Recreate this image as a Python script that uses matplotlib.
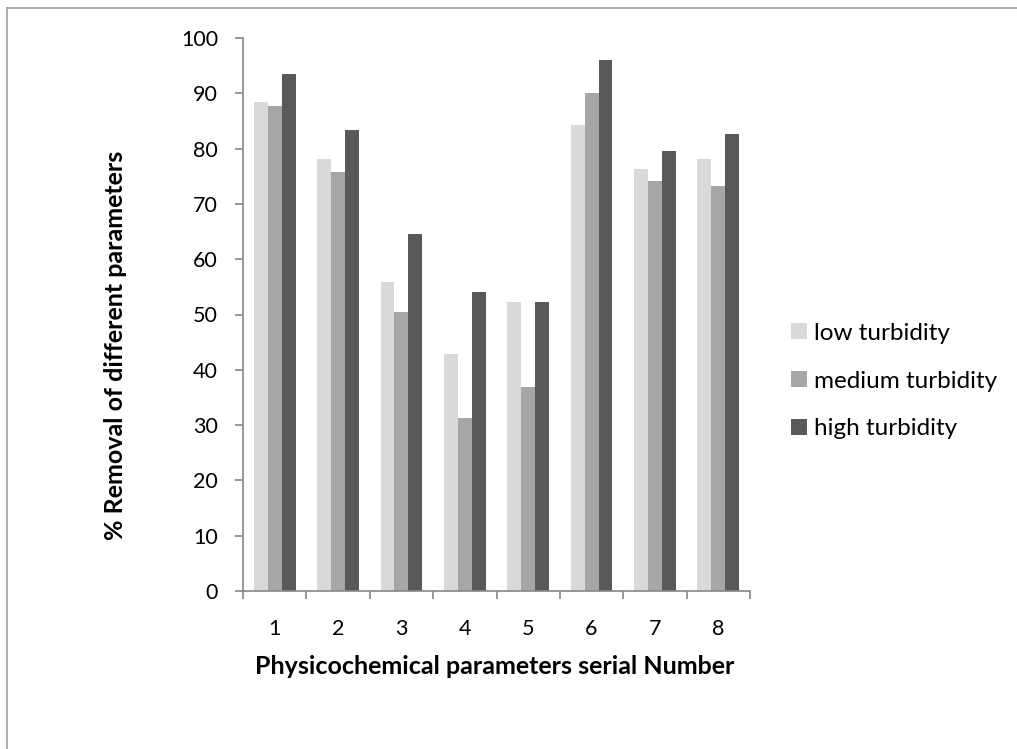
import numpy as np
import matplotlib
matplotlib.use('Agg')
import matplotlib.pyplot as plt
from matplotlib.lines import Line2D

plt.rcParams['font.family'] = ['Lato', 'DejaVu Sans']

groups = ['1', '2', '3', '4', '5', '6', '7', '8']
low = [88.4, 78.2, 55.8, 42.9, 52.3, 84.3, 76.3, 78.1]
medium = [87.7, 75.7, 50.5, 31.3, 36.8, 90.0, 74.1, 73.2]
high = [93.5, 83.4, 64.6, 54.1, 52.3, 96.0, 79.6, 82.7]
series_names = ['low turbidity', 'medium turbidity', 'high turbidity']
colors = ['#D9D9D9', '#A6A6A6', '#595959']

W, H = 1017, 749
fig = plt.figure(figsize=(W/100, H/100), dpi=100)
ax = fig.add_axes([243/W, (H-591)/H, 507/W, 553/H])

x = np.arange(len(groups))
w = 0.22
for i, (vals, name, c) in enumerate(zip([low, medium, high], series_names, colors)):
    ax.bar(x + (i - 1)*w, vals, width=w, color=c, edgecolor='none', label=name)

axis_col = '#868686'
ax.set_xlim(-0.5, len(groups) - 0.5)
ax.set_ylim(0, 100)
ax.set_yticks(np.arange(0, 101, 10))
ax.set_xticks(x)
ax.set_xticklabels(groups)
ax.set_xticks(np.arange(-0.5, len(groups), 1), minor=True)
ax.tick_params(axis='x', which='major', length=0, labelsize=15.5, pad=20)
ax.tick_params(axis='x', which='minor', length=6, width=1.2, color=axis_col, direction='out')
ax.tick_params(axis='y', length=6, width=1.2, color=axis_col, labelsize=15.5, pad=12)
for s in ['top', 'right']:
    ax.spines[s].set_visible(False)
for s in ['left', 'bottom']:
    ax.spines[s].set_color(axis_col)
    ax.spines[s].set_linewidth(1.2)

fig.text(495/W, 1 - 666/H, 'Physicochemical parameters serial Number',
         fontsize=18, fontweight='bold', ha='center', va='center')
fig.text(116/W, 1 - 345/H, '% Removal of different parameters',
         fontsize=18, fontweight='bold', ha='center', va='center', rotation=90)

fig.legend(loc='center left', bbox_to_anchor=(791/W, 1 - 381/H), bbox_transform=fig.transFigure,
           frameon=False, fontsize=17.5, borderpad=0, borderaxespad=0,
           handlelength=0.66, handleheight=0.66, labelspacing=1.1, handletextpad=0.3)

# outer chart border (top and left visible)
fig.add_artist(Line2D([7/W, 1], [1 - 8/H, 1 - 8/H], color='#A0A0A0', lw=1.2))
fig.add_artist(Line2D([7/W, 7/W], [0, 1 - 8/H], color='#A0A0A0', lw=1.2))

fig.savefig('out.png', dpi=100)
